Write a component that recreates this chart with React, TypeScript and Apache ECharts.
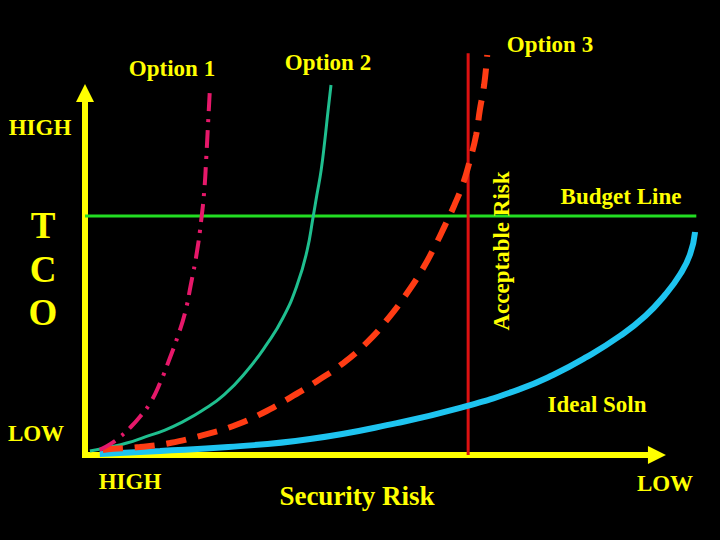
import React, { useEffect, useRef } from "react";
import * as echarts from "echarts";

// Security risk (x, 0 = HIGH risk, 100 = LOW risk) vs TCO (y, 0 = LOW, 100 = HIGH)
const option1: number[][] = [
  [2.4, 1.4], [4.1, 3.0], [5.7, 5.0], [7.3, 7.5], [8.9, 10.5], [10.6, 14.4],
  [12.2, 19.9], [13.8, 26.8], [15.1, 32.9], [16.3, 39.5], [17.2, 47.0],
  [18.2, 56.1], [18.9, 64.9], [19.4, 73.2], [19.7, 81.5], [20.0, 91.2], [20.3, 100.8],
];
const option2: number[][] = [
  [0.8, 1.1], [4.1, 2.2], [6.8, 3.3], [9.8, 5.0], [13.0, 6.9], [15.8, 9.1],
  [19.0, 12.2], [22.6, 16.6], [26.3, 23.2], [29.6, 30.7], [32.2, 37.9],
  [34.5, 47.0], [36.1, 56.4], [37.1, 65.8], [37.7, 71.8], [38.4, 78.7],
  [39.0, 87.0], [39.5, 94.8], [40.0, 102.2],
];
const option3: number[][] = [
  [2.9, 1.4], [4.6, 1.7], [8.9, 2.2], [13.8, 3.3], [19.2, 5.5], [24.1, 8.0],
  [28.9, 11.6], [33.3, 15.8], [37.7, 20.4], [42.0, 25.4], [45.9, 31.2],
  [49.1, 37.3], [52.4, 44.8], [55.0, 51.7], [56.9, 57.7], [58.5, 63.3],
  [60.0, 68.8], [61.5, 75.1], [62.6, 81.5], [63.6, 88.4], [64.2, 95.3],
  [64.9, 102.2], [65.4, 110.5],
];
const idealSoln: number[][] = [
  [2.4, 0.3], [12.2, 1.1], [23.3, 2.2], [36.6, 4.4], [50.7, 8.8], [61.0, 13.0],
  [70.7, 18.2], [76.1, 22.1], [81.6, 27.1], [87.0, 32.9], [91.1, 38.4],
  [94.3, 44.2], [96.8, 50.0], [98.4, 55.5], [99.2, 61.6],
];
const acceptableRisk: number[][] = [[62.3, 0], [62.3, 111.0]];
const budgetLine: number[][] = [[0, 66.0], [99.4, 66.0]];
// axis arrows (x arrow ends before the grid edge)
const xAxisEnd = 93.0;
const yAxisEnd = 100;

const YELLOW = "#ffff00";
const FONT = "'Liberation Serif', 'Times New Roman', serif";

const txt = (text: string, x: number, y: number, size: number, rotation = 0) => ({
  type: "text",
  x,
  y,
  rotation,
  z: 100,
  style: {
    text,
    fill: YELLOW,
    fontFamily: FONT,
    fontWeight: "bold",
    fontSize: size,
    align: "center",
    verticalAlign: "middle",
  },
});

export default function App() {
  const ref = useRef<HTMLDivElement>(null);
  useEffect(() => {
    document.body.style.margin = "0";
    document.body.style.background = "#000";
    const chart = echarts.init(ref.current!, undefined, { renderer: "svg" });
    const axisCommon = {
      type: "value" as const,
      min: 0,
      max: 100,
      splitLine: { show: false },
      axisTick: { show: false },
      axisLabel: { show: false },
      axisLine: { show: false },
    };
    const lineSeries = (name: string, data: any[], color: string, width: number, type: any, smooth: number | boolean = 0.5) => ({
      name,
      type: "line",
      data,
      smooth,
      showSymbol: false,
      symbol: "none",
      clip: false,
      silent: true,
      lineStyle: { color, width, type, cap: "butt" },
    });
    const arrowSeries = (name: string, end: number[], rotate: number) => ({
      name,
      type: "line",
      data: [
        { value: [0, 0], symbol: "none" },
        { value: end, symbol: "triangle", symbolSize: 18, symbolRotate: rotate },
      ],
      showSymbol: true,
      clip: false,
      silent: true,
      itemStyle: { color: YELLOW, borderWidth: 0 },
      lineStyle: { color: YELLOW, width: 6, cap: "square" },
    });
    chart.setOption({
      animation: false,
      backgroundColor: "#000000",
      grid: { left: 85, top: 93, right: 20, bottom: 85 },
      xAxis: axisCommon,
      yAxis: axisCommon,
      series: [
        arrowSeries("x axis", [xAxisEnd, 0], -90),
        arrowSeries("y axis", [0, yAxisEnd], 0),
        lineSeries("Budget Line", budgetLine, "#22dd22", 3, "solid", false),
        lineSeries("Acceptable Risk", acceptableRisk, "#dd1111", 3, "solid", false),
        lineSeries("Ideal Soln", idealSoln, "#1ec4f0", 6, "solid"),
        lineSeries("Option 2", option2, "#1fbf8f", 3, "solid"),
        lineSeries("Option 3", option3, "#ff3c14", 6, [20, 12]),
        lineSeries("Option 1", option1, "#e6186a", 4, [18, 8, 3, 8]),
      ],
      graphic: [
        txt("Option 1", 172, 68, 23),
        txt("Option 2", 328, 62, 23),
        txt("Option 3", 550, 44, 23),
        txt("HIGH", 40, 127, 23),
        txt("T", 43, 225, 37),
        txt("C", 43, 269, 37),
        txt("O", 43, 312, 37),
        txt("LOW", 36, 433, 23),
        txt("HIGH", 130, 481, 23),
        txt("Security Risk", 357, 496, 27),
        txt("LOW", 665, 483, 23),
        txt("Budget Line", 621, 196, 23),
        txt("Ideal Soln", 597, 404, 23),
        txt("Acceptable Risk", 501, 251, 23, Math.PI / 2),
      ],
    });
    return () => chart.dispose();
  }, []);
  return <div ref={ref} style={{ width: 720, height: 540 }} />;
}
